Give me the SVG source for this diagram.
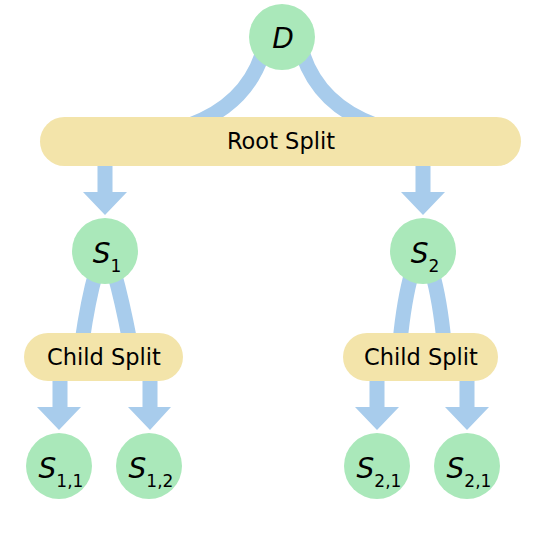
<svg xmlns="http://www.w3.org/2000/svg" width="538" height="534" viewBox="0 0 538 534">
<style>
.link{fill:none;stroke:#a8ccec;stroke-width:15}
.arrow{fill:#a8ccec}
.circ{fill:#aae8ba}
.bar{fill:#f3e4aa}
.lbl{font-family:"DejaVu Sans",sans-serif;font-size:22.5px;fill:#000;text-anchor:middle}
.var{font-family:"DejaVu Sans",sans-serif;font-size:28px;fill:#000;text-anchor:middle}
.it{font-style:italic}
.sub{font-size:17px}
</style>
<rect width="538" height="534" fill="#fff"/>
<g id="connectors">
<path class="link" d="M 262 55 Q 245 105 190 125"/>
<path class="link" d="M 303 55 Q 320 105 375 125"/>
<path class="link" d="M 96 272 Q 88 300 82 342"/>
<path class="link" d="M 114 272 Q 122 300 130 342"/>
<path class="link" d="M 412 272 Q 404 300 400 342"/>
<path class="link" d="M 432 272 Q 440 300 444 342"/>
<polygon class="arrow" points="97.5,160 112.5,160 112.5,192 127,192 105,215 83,192 97.5,192"/>
<polygon class="arrow" points="415.5,160 430.5,160 430.5,192 445,192 423,215 401,192 415.5,192"/>
<polygon class="arrow" points="52.5,375 67.5,375 67.5,407 81,407 59,430 37,407 52.5,407"/>
<polygon class="arrow" points="142.5,375 157.5,375 157.5,407 171,407 150,430 128,407 142.5,407"/>
<polygon class="arrow" points="369.5,375 384.5,375 384.5,407 399,407 377,430 355,407 369.5,407"/>
<polygon class="arrow" points="459.5,375 474.5,375 474.5,407 489,407 467,430 445,407 459.5,407"/>
</g>
<g id="D">
<circle class="circ" cx="282" cy="37" r="33"/>
<text class="var it" x="283" y="48">D</text>
</g>
<g id="root-split">
<rect class="bar" x="40" y="117" width="481" height="49" rx="24.5"/>
<text class="lbl" x="281" y="149">Root Split</text>
</g>
<g id="S1">
<circle class="circ" cx="105" cy="251" r="33"/>
<text class="var" x="107" y="263"><tspan class="it">S</tspan><tspan class="sub" dy="9">1</tspan></text>
</g>
<g id="S2">
<circle class="circ" cx="423" cy="251" r="33"/>
<text class="var" x="425" y="263"><tspan class="it">S</tspan><tspan class="sub" dy="9">2</tspan></text>
</g>
<g id="child-split-1">
<rect class="bar" x="24" y="333" width="159" height="48" rx="24"/>
<text class="lbl" x="104" y="365">Child Split</text>
</g>
<g id="child-split-2">
<rect class="bar" x="343" y="333" width="155" height="48" rx="24"/>
<text class="lbl" x="421" y="365">Child Split</text>
</g>
<g id="S11">
<circle class="circ" cx="59" cy="466" r="33"/>
<text class="var" x="61" y="478"><tspan class="it">S</tspan><tspan class="sub" dy="9">1,1</tspan></text>
</g>
<g id="S12">
<circle class="circ" cx="149" cy="466" r="33"/>
<text class="var" x="151" y="478"><tspan class="it">S</tspan><tspan class="sub" dy="9">1,2</tspan></text>
</g>
<g id="S21a">
<circle class="circ" cx="377" cy="466" r="33"/>
<text class="var" x="379" y="478"><tspan class="it">S</tspan><tspan class="sub" dy="9">2,1</tspan></text>
</g>
<g id="S21b">
<circle class="circ" cx="467" cy="466" r="33"/>
<text class="var" x="469" y="478"><tspan class="it">S</tspan><tspan class="sub" dy="9">2,1</tspan></text>
</g>
</svg>
